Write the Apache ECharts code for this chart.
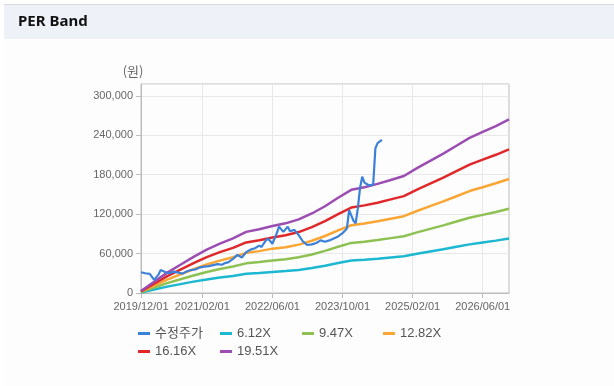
<!DOCTYPE html>
<html>
<head>
<meta charset="utf-8">
<script src="https://cdn.jsdelivr.net/npm/echarts@6/dist/echarts.min.js"></script>
<style>
html,body{margin:0;padding:0;background:#fff;}
#chart{width:614px;height:386px;}
</style>
</head>
<body>
<div id="chart"></div>
<script>
// ---- data ----
const tickLabels = ['2019/12/01','2021/02/01','2022/06/01','2023/10/01','2025/02/01','2026/06/01'];
const yTicks = [0, 60000, 120000, 180000, 240000, 300000];
const seriesNames = ['수정주가','6.12X','9.47X','12.82X','16.16X','19.51X'];

const bandDates = ['2019/12/01','2020/03/01','2020/06/01','2020/09/01','2020/12/01','2021/03/01','2021/06/01','2021/09/01','2021/12/01',
  '2022/03/01','2022/06/01','2022/09/01','2022/12/01','2023/03/01','2023/06/01','2023/09/01','2023/12/01','2024/03/01','2024/06/01',
  '2024/09/01','2024/12/01','2025/03/01','2025/06/01','2025/09/01','2025/12/01','2026/03/01','2026/06/01','2026/09/01','2026/12/01'];
const band612  = [900,5300,9700,13500,17300,20700,23500,26000,29200,30400,32000,33300,35100,38000,41400,45500,49300,50500,52100,54000,55800,59600,63100,66500,70300,74000,76900,79700,82800];
const band947  = [1500,8300,15000,20900,26700,32000,36400,40300,45100,47100,49500,51500,54400,58700,64100,70400,76200,78100,80600,83500,86400,92200,97600,102900,108700,114600,118900,123300,128100];
const band1282 = [2000,11200,20400,28300,36100,43400,49300,54500,61100,63700,67500,69600,73600,79500,86700,95300,103100,105800,109100,113000,116900,124800,132100,139300,147200,155100,161000,166900,173400];
const band1616 = [2500,14100,25700,35600,45500,54600,62100,68700,77000,80300,84500,87800,92700,100200,109300,120100,130000,133300,137400,142400,147400,157300,166400,175500,185500,195400,202900,210300,218600];
const band1951 = [3000,17000,31000,43000,55000,66000,75000,83000,93000,97000,102000,106000,112000,121000,132000,145000,157000,161000,166000,172000,178000,190000,201000,212000,224000,236000,245000,254000,264000];

const priceDates = ['2019/12/01','2020/01/01','2020/02/01','2020/03/01','2020/04/01','2020/04/16','2020/05/16','2020/06/16','2020/07/16','2020/08/16',
  '2020/09/16','2020/10/16','2020/11/16','2020/12/16','2021/01/16','2021/02/16','2021/03/16','2021/04/16','2021/05/16','2021/06/16',
  '2021/07/01','2021/08/01','2021/09/01','2021/10/01','2021/11/01','2021/12/01','2022/01/01','2022/02/01','2022/03/01','2022/03/16',
  '2022/04/16','2022/05/01','2022/06/01','2022/07/01','2022/07/16','2022/08/16','2022/09/16','2022/10/01','2022/11/01','2022/12/01',
  '2023/01/01','2023/02/01','2023/03/01','2023/04/01','2023/05/01','2023/06/01','2023/07/01','2023/08/01','2023/09/01','2023/10/01',
  '2023/11/01','2023/11/16','2023/12/01','2023/12/16','2024/01/01','2024/01/16','2024/02/01','2024/02/16','2024/03/01','2024/04/01',
  '2024/05/01','2024/05/16','2024/06/01','2024/07/01'];
const priceValues = [31500,30000,29000,20000,28000,35000,32000,30000,32500,31000,
  29500,33000,35000,36000,39000,40000,41000,42500,44000,43000,
  45000,47000,52000,58000,54000,62000,66000,68000,72000,70000,
  80000,83000,75000,91000,101000,93000,101000,94000,96000,88000,
  78000,73000,74000,76000,80000,78000,80000,83000,86000,91000,
  98000,126000,118000,110000,106000,129000,160000,177000,168000,164000,
  165000,220000,228000,233000];

// ---- build half-month category axis ----
const cats = [];
for (let y = 2019, m = 12; y < 2027; ) {
  const mm = String(m).padStart(2, '0');
  cats.push(y + '/' + mm + '/01');
  if (y === 2026 && m === 12) break;
  cats.push(y + '/' + mm + '/16');
  m++; if (m > 12) { m = 1; y++; }
}
const showIdx = new Set(tickLabels.map(d => cats.indexOf(d)));
const intervalFn = (idx) => showIdx.has(idx);
const toPairs = (dates, vals) => dates.map((d, i) => [cats.indexOf(d), vals[i]]);

const colors = ['#3c80d8','#1cb7d1','#8dc153','#f9a634','#e0282b','#9b4db2'];
const bandSets = [band612, band947, band1282, band1616, band1951];

const series = [];
bandSets.forEach((arr, i) => {
  series.push({
    name: seriesNames[i + 1], type: 'line', showSymbol: false, symbol: 'none',
    data: toPairs(bandDates, arr), lineStyle: { width: 2.5, color: colors[i + 1] },
    itemStyle: { color: colors[i + 1] }, z: 2
  });
});
series.push({
  name: seriesNames[0], type: 'line', showSymbol: false, symbol: 'none',
  data: toPairs(priceDates, priceValues), lineStyle: { width: 2.2, color: colors[0] },
  itemStyle: { color: colors[0] }, z: 3
});

const legendPos = [[138, 327], [220, 327], [302, 327], [383, 327], [138, 345], [220, 345]];
const legends = seriesNames.map((n, i) => ({
  data: [n], left: legendPos[i][0], top: legendPos[i][1], padding: 0,
  icon: 'rect', itemWidth: 12, itemHeight: 3, itemGap: 5,
  textStyle: { color: '#555', fontSize: 13, fontFamily: 'Liberation Sans, Arial, "Noto Sans CJK KR", sans-serif' },
  selectedMode: false
}));

const chart = echarts.init(document.getElementById('chart'), null, { renderer: 'canvas' });
chart.setOption({
  animation: false,
  backgroundColor: '#fdfdfd',
  graphic: [
    { type: 'rect', left: 4, top: 5, shape: { width: 610, height: 34 }, style: { fill: '#eef2f8' }, silent: true },
    { type: 'rect', left: 4, top: 4, shape: { width: 610, height: 1 }, style: { fill: '#d9d9d9' }, silent: true },
    { type: 'rect', left: 0, top: 0, shape: { width: 4, height: 386 }, style: { fill: '#ffffff' }, silent: true },
    { type: 'text', left: 18, top: 14, style: { text: 'PER Band', font: 'bold 15px "Noto Sans", sans-serif', fill: '#111' } }
  ],
  legend: legends,
  grid: { left: 141, top: 84, right: 105, bottom: 93, show: true, borderColor: '#bdbdbd', borderWidth: 1 },
  xAxis: {
    type: 'category', data: cats, boundaryGap: false,
    axisLine: { lineStyle: { color: '#bdbdbd' } },
    axisTick: { interval: intervalFn, length: 5, lineStyle: { color: '#bdbdbd' } },
    splitLine: { show: true, interval: intervalFn, lineStyle: { color: '#e8e8e8' } },
    axisLabel: { interval: intervalFn, color: '#666', fontSize: 11, margin: 8, fontFamily: 'Liberation Sans, Arial, sans-serif' }
  },
  yAxis: {
    type: 'value', min: yTicks[0], max: 318000, interval: yTicks[1] - yTicks[0],
    name: '(원)', nameLocation: 'end', nameGap: 6,
    nameTextStyle: { color: '#666', fontSize: 13, padding: [0, 16, 0, 0], fontFamily: '"Noto Sans CJK KR", sans-serif' },
    axisLine: { show: true, lineStyle: { color: '#bdbdbd' } },
    axisTick: { show: true, length: 5, lineStyle: { color: '#bdbdbd' } },
    splitLine: { show: true, lineStyle: { color: '#e8e8e8' } },
    axisLabel: {
      color: '#666', fontSize: 11, margin: 8, showMaxLabel: false,
      fontFamily: 'Liberation Sans, Arial, sans-serif',
      formatter: v => (yTicks.indexOf(v) >= 0 ? v.toLocaleString('en-US') : '')
    }
  },
  series: series
});
</script>
</body>
</html>
